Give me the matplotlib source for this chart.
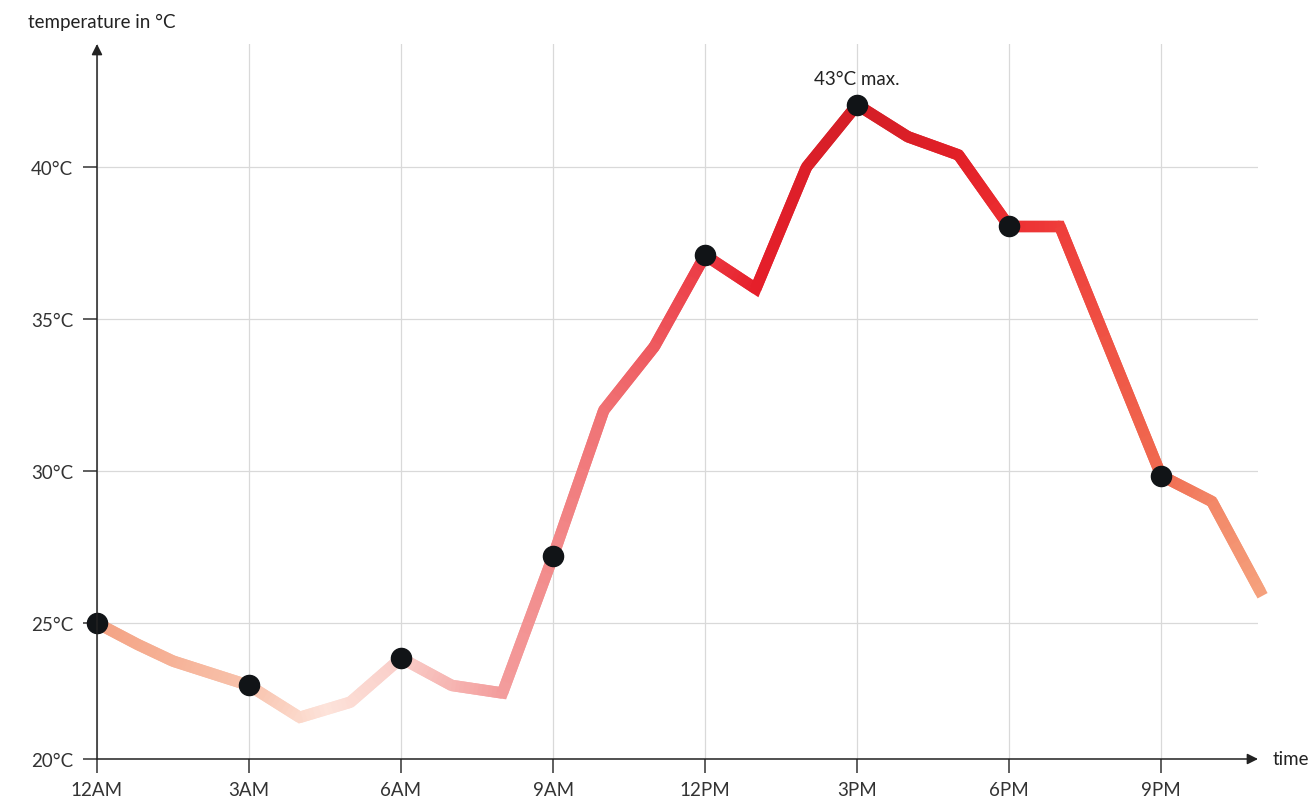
import numpy as np
import matplotlib
matplotlib.use("Agg")
import matplotlib.pyplot as plt
from matplotlib.collections import LineCollection
from matplotlib.colors import LinearSegmentedColormap

plt.rcParams["font.family"] = ["Lato", "DejaVu Sans"]

# temperature over the day (hour of day, degrees C)
hours = [0, 0.8, 1.5, 3, 4, 5, 6, 7, 8, 9, 10, 11, 12, 13, 14, 15, 16, 17, 18, 19, 21, 22, 23]
temps = [25.0, 24.3, 23.75, 22.95, 21.9, 22.4, 23.85, 22.95, 22.7, 27.2, 32.0, 34.1,
         37.1, 36.0, 40.0, 42.05, 41.0, 40.4, 38.05, 38.05, 29.85, 29.0, 25.9]

tick_hours = [0, 3, 6, 9, 12, 15, 18, 21]
tick_labels = ["12AM", "3AM", "6AM", "9AM", "12PM", "3PM", "6PM", "9PM"]
y_ticks = [40, 35, 30, 25]
y_labels = ["40°C", "35°C", "30°C", "25°C"]
max_label = "43°C max."

# colour gradient along the time axis
stop_hours = [0, 3, 4.5, 6, 8, 9, 11, 12, 13, 15, 17, 18, 19, 21, 23]
stop_colors = ["#f4a283", "#f8c3ad", "#fde3da", "#f9cdc8", "#f39c9c", "#f28a8a",
               "#ee5a5f", "#ec3a44", "#e61f2a", "#d31f27", "#e21f27", "#ec2e31",
               "#ee3c3a", "#f06a50", "#f5a07c"]
cmap = LinearSegmentedColormap.from_list(
    "heat", [(h / stop_hours[-1], c) for h, c in zip(stop_hours, stop_colors)])

W, H = 1313, 803
fig = plt.figure(figsize=(W / 100, H / 100), dpi=100)
ax = fig.add_axes([97 / W, 43 / H, (1258 - 97) / W, (760 - 45) / H])

x_max = 22.91
y_min, y_max = 20.53, 44.05
ax.set_xlim(0, x_max)
ax.set_ylim(y_min, y_max)

# split the line into short overlapping pieces so it can carry a gradient
px, py = [], []
for i in range(len(hours) - 1):
    t = np.linspace(0, 1, 25, endpoint=False)
    px.extend(hours[i] + t * (hours[i + 1] - hours[i]))
    py.extend(temps[i] + t * (temps[i + 1] - temps[i]))
px.append(hours[-1])
py.append(temps[-1])
pts = np.column_stack([px, py])
segs = [pts[k:k + 3] for k in range(len(pts) - 2)]
cols = [cmap(pts[k + 1, 0] / stop_hours[-1]) for k in range(len(pts) - 2)]
lc = LineCollection(segs, colors=cols, linewidths=8.2, capstyle="butt",
                    joinstyle="miter", clip_on=False, zorder=3)
ax.add_collection(lc)

mk_t = [temps[hours.index(h)] for h in tick_hours]
ax.plot(tick_hours, mk_t, "o", color="#111417", markersize=14.5, zorder=4, clip_on=False)

peak = int(np.argmax(temps))
ax.annotate(max_label, (hours[peak], temps[peak]), xytext=(0, 15),
            textcoords="offset points", ha="center", va="baseline",
            fontsize=13.5, color="#222222")

# axes styling
for s in ax.spines.values():
    s.set_visible(False)
ax.set_xticks(tick_hours)
ax.set_xticklabels(tick_labels)
ax.set_yticks([y_min] + y_ticks)
ax.set_yticklabels(["20°C"] + y_labels)
ax.tick_params(axis="both", length=10, width=1.1, color="#333333",
               labelsize=13.5, labelcolor="#333333")
ax.tick_params(axis="x", pad=6)
ax.tick_params(axis="y", pad=7)
ax.grid(True, color="#d9d9d9", linewidth=0.9)
ax.set_axisbelow(True)

arrow = dict(arrowstyle="-|>", color="#222222", lw=1.1, mutation_scale=16,
             shrinkA=0, shrinkB=0)
ax.annotate("", xy=(0, 1), xycoords="axes fraction", xytext=(0, 0),
            textcoords="axes fraction", arrowprops=arrow, zorder=5)
ax.annotate("", xy=(1, 0), xycoords="axes fraction", xytext=(0, 0),
            textcoords="axes fraction", arrowprops=arrow, zorder=5)

fig.text(28 / W, 1 - 22 / H, "temperature in °C", fontsize=13.5, color="#222222",
         ha="left", va="center")
fig.text(1273 / W, 1 - 760 / H, "time", fontsize=13.5, color="#222222",
         ha="left", va="center")

fig.savefig("out.png", dpi=100)
